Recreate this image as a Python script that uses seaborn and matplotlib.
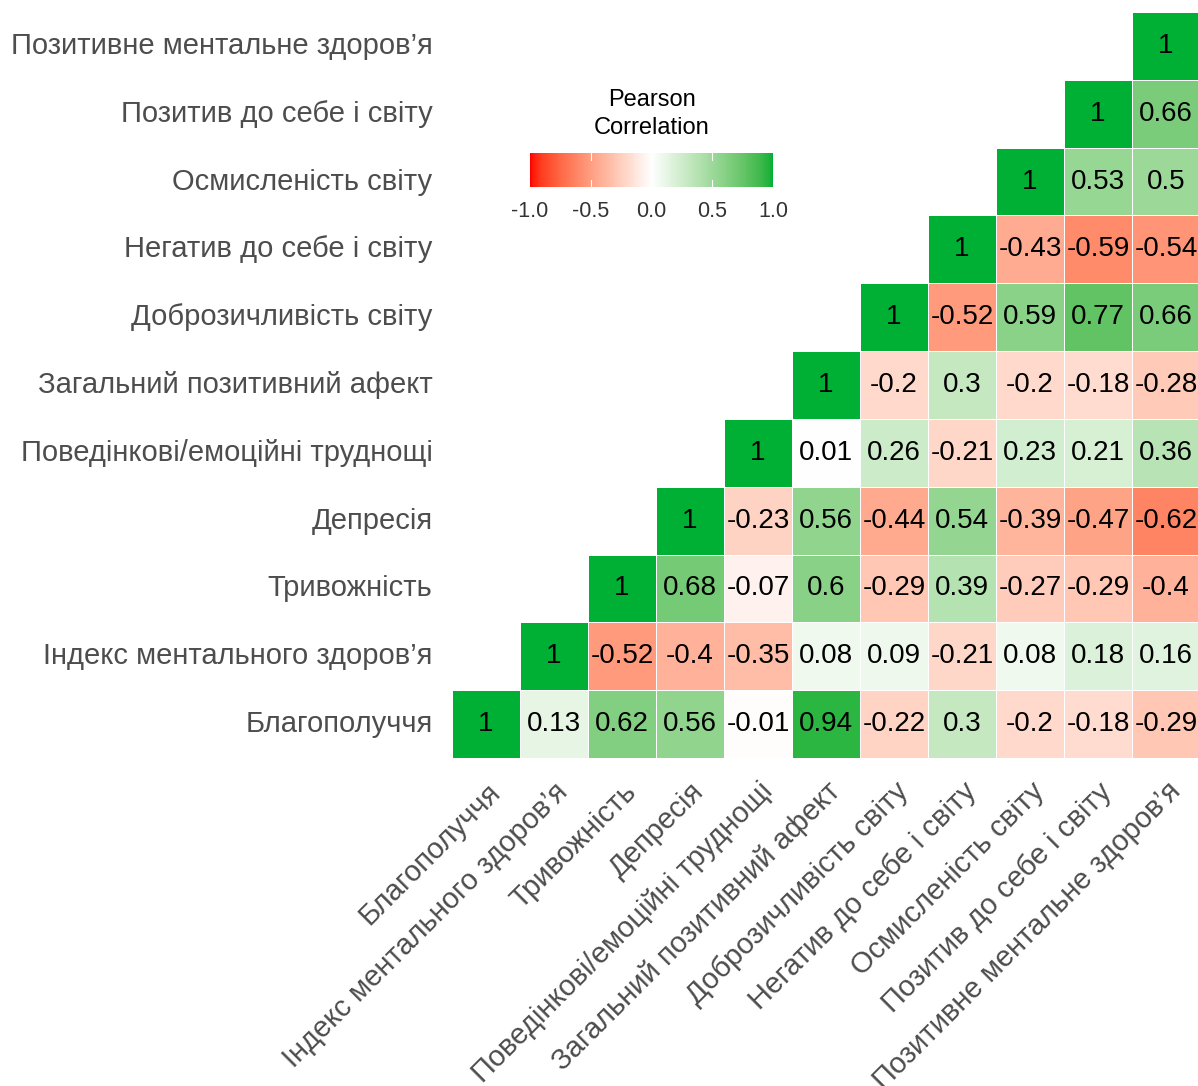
import numpy as np
import pandas as pd
import matplotlib
matplotlib.use("Agg")
import matplotlib.pyplot as plt
from matplotlib.colors import LinearSegmentedColormap, to_rgb
import seaborn as sns

sns.set_theme(style="white")
plt.rcParams["font.family"] = ["Liberation Sans", "DejaVu Sans"]

variables = [
    "Благополуччя",
    "Індекс ментального здоров’я",
    "Тривожність",
    "Депресія",
    "Поведінкові/емоційні труднощі",
    "Загальний позитивний афект",
    "Доброзичливість світу",
    "Негатив до себе і світу",
    "Осмисленість світу",
    "Позитив до себе і світу",
    "Позитивне ментальне здоров’я",
]

# upper-triangle correlations, one list per variable (from its diagonal rightwards)
r_wellbeing = [1, 0.13, 0.62, 0.56, -0.01, 0.94, -0.22, 0.3, -0.2, -0.18, -0.29]
r_mh_index = [1, -0.52, -0.4, -0.35, 0.08, 0.09, -0.21, 0.08, 0.18, 0.16]
r_anxiety = [1, 0.68, -0.07, 0.6, -0.29, 0.39, -0.27, -0.29, -0.4]
r_depression = [1, -0.23, 0.56, -0.44, 0.54, -0.39, -0.47, -0.62]
r_behaviour = [1, 0.01, 0.26, -0.21, 0.23, 0.21, 0.36]
r_pos_affect = [1, -0.2, 0.3, -0.2, -0.18, -0.28]
r_benevolence = [1, -0.52, 0.59, 0.77, 0.66]
r_negative = [1, -0.43, -0.59, -0.54]
r_meaning = [1, 0.53, 0.5]
r_positive = [1, 0.66]
r_pos_mh = [1]

rows = [r_wellbeing, r_mh_index, r_anxiety, r_depression, r_behaviour,
        r_pos_affect, r_benevolence, r_negative, r_meaning, r_positive, r_pos_mh]

n = len(variables)
corr = np.full((n, n), np.nan)
for i, vals in enumerate(rows):
    for k, v in enumerate(vals):
        corr[i, i + k] = v
        corr[i + k, i] = v

df = pd.DataFrame(corr, index=variables, columns=variables)
# first variable at the bottom
df_plot = df.iloc[::-1]
mask = np.zeros_like(corr, dtype=bool)
for r in range(n):
    i = n - 1 - r
    for j in range(n):
        if j < i:
            mask[r, j] = True


# diverging palette interpolated in CIE Lab space
def srgb_to_lab(rgb):
    rgb = np.asarray(rgb, float)
    lin = np.where(rgb <= 0.04045, rgb / 12.92, ((rgb + 0.055) / 1.055) ** 2.4)
    M = np.array([[0.4124, 0.3576, 0.1805],
                  [0.2126, 0.7152, 0.0722],
                  [0.0193, 0.1192, 0.9505]])
    xyz = lin @ M.T / np.array([0.95047, 1.0, 1.08883])
    f = np.where(xyz > 0.008856, np.cbrt(xyz), 7.787 * xyz + 16 / 116)
    return np.stack([116 * f[..., 1] - 16,
                     500 * (f[..., 0] - f[..., 1]),
                     200 * (f[..., 1] - f[..., 2])], axis=-1)


def lab_to_srgb(lab):
    lab = np.asarray(lab, float)
    fy = (lab[..., 0] + 16) / 116
    fx = fy + lab[..., 1] / 500
    fz = fy - lab[..., 2] / 200
    f = np.stack([fx, fy, fz], axis=-1)
    xyz = np.where(f > 0.2069, f ** 3, (f - 16 / 116) / 7.787) * np.array([0.95047, 1.0, 1.08883])
    Minv = np.array([[3.2406, -1.5372, -0.4986],
                     [-0.9689, 1.8758, 0.0415],
                     [0.0557, -0.2040, 1.0570]])
    lin = xyz @ Minv.T
    lin = np.clip(lin, 0, 1)
    rgb = np.where(lin <= 0.0031308, 12.92 * lin, 1.055 * lin ** (1 / 2.4) - 0.055)
    return np.clip(rgb, 0, 1)


low, mid, high = to_rgb("#FF0000"), to_rgb("#FFFFFF"), to_rgb("#00B035")
lab_low, lab_mid, lab_high = srgb_to_lab(low), srgb_to_lab(mid), srgb_to_lab(high)
t = np.linspace(0, 1, 128)[:, None]
half1 = lab_to_srgb(lab_low + (lab_mid - lab_low) * t)
half2 = lab_to_srgb(lab_mid + (lab_high - lab_mid) * t)
cmap = LinearSegmentedColormap.from_list("red_white_green", np.vstack([half1, half2[1:]]))

W, H = 1198, 1086
fig = plt.figure(figsize=(W / 100, H / 100), dpi=100)
ax = fig.add_axes([452 / W, (H - 758) / H, 748 / W, 746 / H])
cax = fig.add_axes([530 / W, (H - 187) / H, 243 / W, 34 / H])

annot = df_plot.map(lambda v: "" if np.isnan(v) else f"{v:g}")
sns.heatmap(df_plot, mask=mask, cmap=cmap, vmin=-1, vmax=1, center=0,
            annot=annot, fmt="", annot_kws={"size": 20, "color": "black"},
            linewidths=0.5, linecolor="white", square=False,
            cbar=True, cbar_ax=cax,
            cbar_kws={"orientation": "horizontal", "ticks": [-1, -0.5, 0, 0.5, 1]},
            ax=ax)

ax.set_xlabel("")
ax.set_ylabel("")
ax.tick_params(axis="x", length=0, pad=14)
ax.tick_params(axis="y", length=0, pad=14)
ax.set_xticklabels(variables, rotation=45, ha="right", va="top",
                   rotation_mode="anchor", fontsize=21, color="#4D4D4D")
ax.set_yticklabels(variables[::-1], rotation=0, fontsize=21, color="#4D4D4D")

cax.tick_params(length=0, labelsize=15.5, colors="#333333", pad=10)
cax.set_xticklabels(["-1.0", "-0.5", "0.0", "0.5", "1.0"])
for v in [-0.5, 0, 0.5]:
    cax.axvline(v, color="white", lw=0.8, ymin=0, ymax=0.2)
    cax.axvline(v, color="white", lw=0.8, ymin=0.8, ymax=1)
for s in cax.spines.values():
    s.set_visible(False)
fig.text(652 / W, 1 - 114 / H, "Pearson\nCorrelation", ha="center", va="center",
         fontsize=17, color="black", linespacing=1.3)

fig.savefig("out.png", dpi=100, facecolor="white")
